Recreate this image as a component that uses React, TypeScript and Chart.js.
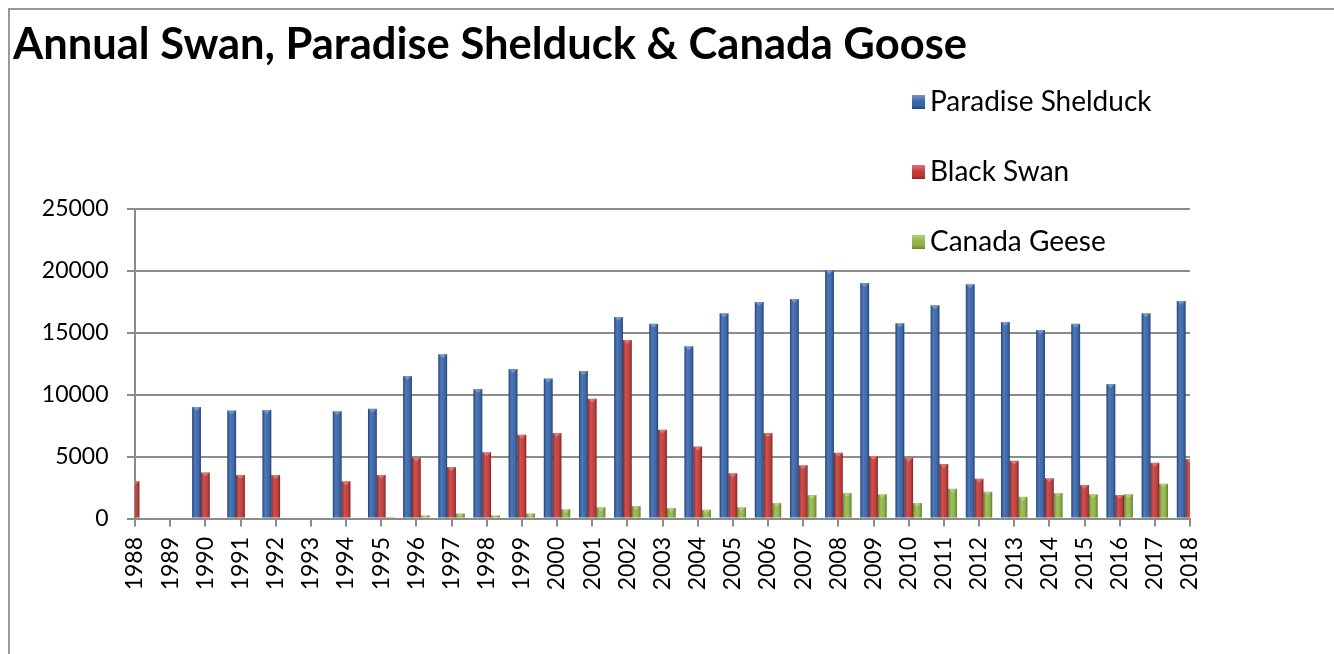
import { useEffect, useRef } from 'react';
import { Chart, registerables } from 'chart.js';

Chart.register(...registerables);

const TITLE = 'Annual Swan, Paradise Shelduck & Canada Goose';

const years = [
  '1988', '1989', '1990', '1991', '1992', '1993', '1994', '1995', '1996', '1997',
  '1998', '1999', '2000', '2001', '2002', '2003', '2004', '2005', '2006', '2007',
  '2008', '2009', '2010', '2011', '2012', '2013', '2014', '2015', '2016', '2017', '2018',
];

const paradiseShelduck = [
  null, null, 9000, 8700, 8750, null, 8650, 8850, 11500, 13250,
  10450, 12050, 11300, 11900, 16250, 15700, 13900, 16550, 17450, 17700,
  20050, 19000, 15750, 17200, 18900, 15850, 15200, 15700, 10850, 16550, 17550,
];

const blackSwan = [
  3000, null, 3700, 3500, 3500, null, 3000, 3500, 4900, 4150,
  5350, 6750, 6900, 9650, 14400, 7150, 5800, 3650, 6900, 4300,
  5300, 5050, 4900, 4400, 3200, 4650, 3250, 2700, 1900, 4500, 4800,
];

const canadaGeese = [
  null, null, null, null, null, null, null, 50, 250, 400,
  250, 400, 750, 900, 1000, 850, 700, 900, 1250, 1900,
  2050, 1950, 1250, 2400, 2150, 1750, 2050, 1950, 1950, 2800, null,
];

const yTicks = [0, 5000, 10000, 15000, 20000, 25000];

const seriesNames = ['Paradise Shelduck', 'Black Swan', 'Canada Geese'];
const seriesColors = ['#2A5CA6', '#C02E2B', '#8AB23A'];

const FONT = 'Lato, "Open Sans", sans-serif';

const barShade = {
  id: 'barShade',
  afterDatasetsDraw(chart: any) {
    const { ctx, chartArea } = chart;
    ctx.save();
    ctx.beginPath();
    ctx.rect(chartArea.left, chartArea.top, chartArea.right - chartArea.left, chartArea.bottom - chartArea.top);
    ctx.clip();
    chart.data.datasets.forEach((_ds: any, i: number) => {
      const meta = chart.getDatasetMeta(i);
      if (meta.hidden) return;
      meta.data.forEach((el: any) => {
        const { x, y, base, width } = el.getProps(['x', 'y', 'base', 'width'], true);
        if (!Number.isFinite(y) || !Number.isFinite(x) || Math.abs(base - y) < 0.5) return;
        const left = x - width / 2;
        const g = ctx.createLinearGradient(left, 0, left + width, 0);
        g.addColorStop(0, 'rgba(0,0,0,0.28)');
        g.addColorStop(0.35, 'rgba(255,255,255,0.18)');
        g.addColorStop(0.55, 'rgba(255,255,255,0.10)');
        g.addColorStop(1, 'rgba(0,0,0,0.32)');
        ctx.fillStyle = g;
        ctx.fillRect(left, Math.min(y, base), width, Math.abs(base - y));
        ctx.fillStyle = 'rgba(255,255,255,0.25)';
        ctx.beginPath();
        ctx.moveTo(left, y);
        ctx.lineTo(left + width, y);
        ctx.lineTo(x, y + Math.min(4, Math.abs(base - y)));
        ctx.closePath();
        ctx.fill();
      });
    });
    ctx.restore();
  },
};

const LEGEND_X = 902;
const LEGEND_Y = 92;
const LEGEND_GAP = 70;

const sideLegend = {
  id: 'sideLegend',
  afterDraw(chart: any) {
    const { ctx } = chart;
    ctx.save();
    chart.data.datasets.forEach((ds: any, i: number) => {
      const cy = LEGEND_Y + i * LEGEND_GAP;
      const bx = LEGEND_X;
      const by = cy - 7;
      ctx.fillStyle = ds.backgroundColor;
      ctx.fillRect(bx, by, 13, 14);
      const g = ctx.createLinearGradient(0, by, 0, by + 14);
      g.addColorStop(0, 'rgba(255,255,255,0.35)');
      g.addColorStop(0.5, 'rgba(255,255,255,0.05)');
      g.addColorStop(1, 'rgba(0,0,0,0.25)');
      ctx.fillStyle = g;
      ctx.fillRect(bx, by, 13, 14);
      ctx.fillStyle = '#000';
      ctx.font = `28px ${FONT}`;
      ctx.textAlign = 'left';
      ctx.textBaseline = 'middle';
      ctx.fillText(ds.label, bx + 18, cy);
    });
    ctx.restore();
  },
};

export default function App() {
  const ref = useRef<HTMLCanvasElement>(null);

  useEffect(() => {
    if (!ref.current) return;
    const chart = new Chart(ref.current, {
      type: 'bar',
      data: {
        labels: years,
        datasets: [paradiseShelduck, blackSwan, canadaGeese].map((d, i) => ({
          label: seriesNames[i],
          data: d,
          backgroundColor: seriesColors[i],
          borderWidth: 0,
          categoryPercentage: 0.75,
          barPercentage: 1,
          clip: 0,
        })) as any,
      },
      options: {
        responsive: false,
        maintainAspectRatio: false,
        animation: false,
        events: [],
        layout: { padding: { left: 3, right: 144, top: 0, bottom: 0 } },
        plugins: {
          legend: { display: false },
          tooltip: { enabled: false },
          title: {
            display: true,
            text: TITLE,
            align: 'start',
            color: '#000',
            font: { family: FONT, size: 43.5, weight: 'bold', lineHeight: 1.2 },
            padding: { top: 8.5, bottom: 137.8 },
          },
        },
        scales: {
          x: {
            offset: false,
            grid: {
              offset: false,
              drawOnChartArea: false,
              drawTicks: true,
              tickLength: 8,
              color: '#8c8c8c',
              lineWidth: 2,
            },
            border: { display: true, color: '#8c8c8c', width: 2 },
            ticks: {
              autoSkip: false,
              minRotation: 90,
              maxRotation: 90,
              padding: 10.5,
              color: '#000',
              font: { family: FONT, size: 23 },
            },
            afterFit: (s: any) => {
              s.height = 135.5;
            },
          },
          y: {
            min: yTicks[0],
            max: yTicks[yTicks.length - 1],
            afterBuildTicks: (s: any) => {
              s.ticks = yTicks.map((v) => ({ value: v }));
            },
            ticks: {
              padding: 18.5,
              color: '#000',
              font: { family: FONT, size: 23 },
              callback: (v: any) => String(v),
            },
            grid: { color: '#8c8c8c', lineWidth: 2, tickLength: 8 },
            border: { display: true, color: '#8c8c8c', width: 2 },
            afterFit: (s: any) => {
              s.width = 122;
            },
          },
        },
      } as any,
      plugins: [barShade, sideLegend],
    });
    return () => chart.destroy();
  }, []);

  return (
    <div
      style={{
        position: 'fixed',
        left: 8,
        top: 8,
        width: 1324,
        height: 644,
        borderLeft: '2px solid #9a9a9a',
        borderTop: '2px solid #9a9a9a',
        background: '#fff',
      }}
    >
      <canvas ref={ref} width={1324} height={644} style={{ display: 'block' }} />
    </div>
  );
}
